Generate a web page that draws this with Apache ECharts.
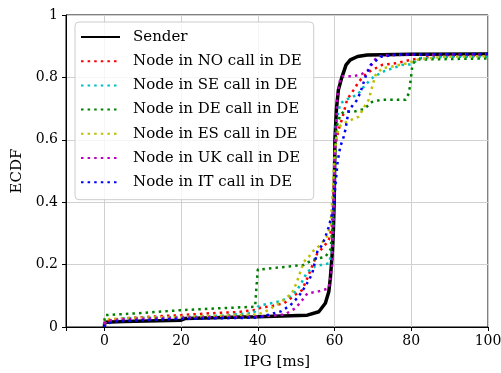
<!DOCTYPE html>
<html>
<head>
<meta charset="utf-8">
<script src="https://cdn.jsdelivr.net/npm/echarts@6/dist/echarts.min.js"></script>
<style>
  html, body { margin: 0; padding: 0; background: #fff; }
  #chart { width: 501px; height: 373px; }
</style>
</head>
<body>
<div id="chart"></div>
<script>
var seriesNames = ['Sender', 'Node in NO call in DE', 'Node in SE call in DE', 'Node in DE call in DE',
    'Node in ES call in DE', 'Node in UK call in DE', 'Node in IT call in DE'];
var seriesColors = ['#000000', '#ff0000', '#00bfbf', '#008000', '#bfbf00', '#bf00bf', '#0000ff'];

// ECDF curves, [IPG ms, ECDF]
var sender = [[0,0],[0.1,0.015],[5,0.018],[20,0.022],[21,0.027],[35.5,0.032],[40,0.033],[52.9,0.038],
    [55.9,0.049],[57.6,0.076],[58.5,0.113],[58.9,0.156],[59.4,0.236],[59.7,0.31],[59.9,0.4],[60.1,0.6],
    [60.5,0.7],[61,0.76],[61.9,0.8],[63,0.84],[64.1,0.856],[66,0.867],[68.5,0.872],[80,0.874],[100,0.875]];
var nodeNO = [[0,0.005],[0.5,0.02],[5,0.028],[15,0.035],[20,0.038],[27.6,0.044],[35,0.048],[39.4,0.055],
    [40,0.06],[44,0.068],[46.8,0.076],[48,0.087],[49.4,0.1],[51.5,0.118],[52.9,0.156],[54,0.19],
    [55.5,0.236],[57.2,0.257],[58.5,0.279],[59.3,0.32],[59.8,0.45],[60.2,0.58],[61,0.63],[62,0.669],
    [63.3,0.73],[65,0.76],[66.3,0.786],[68.5,0.815],[72.4,0.84],[75.9,0.845],[79.8,0.856],[84,0.865],
    [90,0.869],[100,0.87]];
var nodeSE = [[0,0.01],[0.5,0.02],[5,0.028],[20,0.032],[30,0.036],[39,0.045],[40,0.065],[41.1,0.07],
    [45.9,0.083],[48,0.095],[50,0.115],[51.1,0.135],[52.9,0.177],[55,0.195],[58.5,0.204],[59.5,0.25],
    [59.9,0.45],[60.3,0.65],[61.5,0.717],[63.3,0.73],[65.9,0.744],[67,0.76],[68,0.776],[70.2,0.802],
    [73,0.82],[77.6,0.84],[80.2,0.842],[82,0.861],[90,0.866],[100,0.867]];
var nodeDE = [[0,0.02],[0.2,0.038],[10,0.045],[20,0.054],[30,0.06],[39.3,0.065],[39.6,0.12],[40,0.185],
    [41.1,0.185],[52,0.199],[54.2,0.215],[57.6,0.225],[59,0.25],[59.6,0.35],[60,0.5],[60.5,0.64],
    [61.5,0.68],[62.4,0.69],[65,0.69],[68,0.7],[69.4,0.72],[72,0.728],[78.5,0.728],[79.4,0.75],
    [79.8,0.786],[80.2,0.83],[80.7,0.85],[81.5,0.857],[100,0.861]];
var nodeES = [[0,0.01],[0.5,0.025],[10,0.03],[20,0.032],[30,0.036],[40,0.04],[42.8,0.054],[46,0.08],
    [48.9,0.108],[50.2,0.145],[51.1,0.177],[52,0.209],[53.3,0.225],[54.2,0.241],[56.3,0.263],[58,0.29],
    [59,0.33],[59.6,0.45],[60,0.55],[60.6,0.62],[61.5,0.645],[62.4,0.653],[64.1,0.663],[66.3,0.674],
    [68,0.711],[68.9,0.728],[69.8,0.77],[70.7,0.808],[72.4,0.829],[75,0.835],[78.9,0.845],[82,0.858],
    [88,0.866],[100,0.868]];
var nodeUK = [[0,0.01],[0.5,0.02],[5,0.025],[20,0.03],[40,0.033],[47,0.04],[49.8,0.06],[51.5,0.085],
    [52.9,0.108],[55.5,0.113],[58.5,0.124],[59.4,0.2],[59.8,0.4],[60.2,0.6],[60.8,0.75],[61.5,0.795],
    [62,0.804],[65,0.804],[67,0.81],[68.9,0.824],[70.2,0.853],[71.5,0.868],[75,0.872],[100,0.874]];
var nodeIT = [[0,0],[0.3,0.01],[3,0.018],[10,0.022],[20,0.026],[40,0.03],[46,0.05],[48.5,0.07],
    [50.2,0.092],[51.5,0.113],[53.3,0.15],[54.2,0.172],[55.5,0.241],[56.8,0.263],[57.6,0.289],
    [58.5,0.321],[59.6,0.375],[60.2,0.45],[60.8,0.53],[61.5,0.578],[62.4,0.61],[62.8,0.631],
    [63.7,0.695],[65.9,0.728],[66.8,0.754],[68,0.8],[69.4,0.84],[72,0.866],[76,0.873],[100,0.875]];
var curves = [sender, nodeNO, nodeSE, nodeDE, nodeES, nodeUK, nodeIT];

var font = 'DejaVu Serif';

var series = curves.map(function (d, i) {
    return {
        name: seriesNames[i],
        type: 'line',
        data: d,
        symbol: 'none',
        animation: false,
        color: seriesColors[i],
        lineStyle: i === 0
            ? { color: seriesColors[i], width: 3.5 }
            : { color: seriesColors[i], width: 2.5, type: [2.5, 4.1], cap: 'butt' }
    };
});

var chart = echarts.init(document.getElementById('chart'), null, { renderer: 'canvas' });
chart.setOption({
    animation: false,
    textStyle: { fontFamily: font },
    grid: { left: 66, right: 13, top: 15, bottom: 46, outerBoundsMode: 'none',
        show: true, borderColor: '#000', borderWidth: 1 },
    legend: {
        left: 75, top: 22,
        orient: 'vertical',
        itemWidth: 39, itemHeight: 14, itemGap: 9.2,
        padding: [7.5, 12, 10, 5],
        itemStyle: { opacity: 0 },
        backgroundColor: 'rgba(255,255,255,0.8)',
        borderColor: '#cccccc', borderWidth: 1, borderRadius: 4,
        textStyle: { fontFamily: font, fontSize: 15, color: '#000', padding: [0, 0, 0, 8] },
        data: seriesNames
    },
    xAxis: {
        type: 'value', min: -10, max: 100, splitNumber: 5,
        name: 'IPG [ms]', nameLocation: 'middle', nameGap: 28,
        nameTextStyle: { fontFamily: font, fontSize: 15, color: '#000' },
        axisLine: { show: true, onZero: false, lineStyle: { color: '#000', width: 1 } },
        axisTick: { show: true, length: 4, lineStyle: { color: '#000' } },
        axisLabel: { margin: 7, fontFamily: font, fontSize: 14, color: '#000',
            formatter: function (v) { return v < 0 ? '' : String(v); } },
        splitLine: { show: true, lineStyle: { color: '#d0d0d0', width: 1 } }
    },
    yAxis: {
        type: 'value', min: 0, max: 1, interval: 0.2,
        name: 'ECDF', nameLocation: 'middle', nameGap: 37,
        nameTextStyle: { fontFamily: font, fontSize: 15, color: '#000' },
        axisLine: { show: true, onZero: false, lineStyle: { color: '#000', width: 1 } },
        axisTick: { show: true, length: 4, lineStyle: { color: '#000' } },
        axisLabel: { margin: 8, fontFamily: font, fontSize: 14, color: '#000' },
        splitLine: { show: true, lineStyle: { color: '#d0d0d0', width: 1 } }
    },
    series: series
});
</script>
</body>
</html>
